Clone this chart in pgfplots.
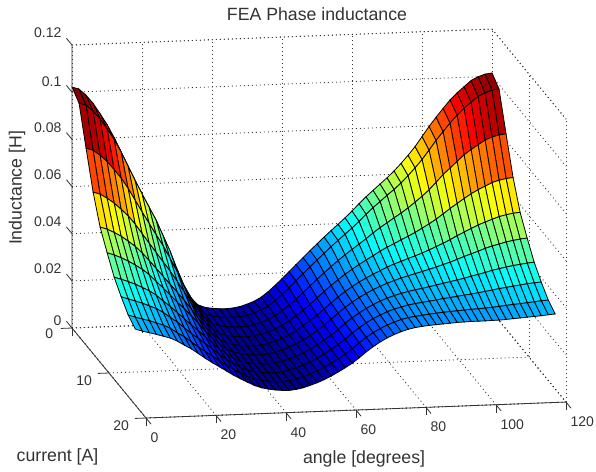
\documentclass[border=0pt]{standalone}
\usepackage{fontspec}
\setmainfont{Liberation Sans}
\usepackage{pgfplots}
\pgfplotsset{compat=1.18}
\begin{document}
\begin{tikzpicture}
\useasboundingbox (0,0) rectangle (596pt,-471pt);
\begin{axis}[
 at={(72pt,-328pt)}, anchor=origin,
 x={(3.5pt,0.133pt)}, y={(-3.7pt,4.5pt)}, z={(0pt,2358pt)}, y dir=reverse,
 xmin=0,xmax=120,ymin=0,ymax=20,zmin=0,zmax=0.12,
 clip=false,
 colormap={mjet}{rgb=(0,0,.5) rgb=(0,0,1) rgb=(0,.5,1) rgb=(0,1,1) rgb=(.5,1,.5) rgb=(1,1,0) rgb=(1,.5,0) rgb=(1,0,0) rgb=(.5,0,0)},
 point meta min=0.0035, point meta max=0.1025,
 xtick={0,20,40,60,80,100,120}, ytick={0,10,20}, ztick={0,0.02,0.04,0.06,0.08,0.1,0.12},
 xticklabels={0,20,40,60,80,100,120}, yticklabels={0,10,20}, zticklabels={0,0.02,0.04,0.06,0.08,0.1,0.12},
 grid=major,
 grid style={black!80,line width=0.8pt,dash pattern=on 1pt off 3pt},
 axis line style={black!80,line width=0.8pt,dash pattern=on 1pt off 3pt},
 tick style={black!80,line width=0.8pt,solid},
 y tick style={draw=none},
 z tick style={draw=none},
 tick align=outside,
 xtick pos=left, ytick pos=left, ztick pos=right,
 xticklabel pos=left, yticklabel pos=left, zticklabel pos=left,
 major tick length=8pt,
 tick label style={font=\fontsize{14}{16}\selectfont,text=black!80},
 x tick label style={anchor=north west,xshift=-4pt,yshift=-5pt},
 y tick label style={xshift=-7pt,yshift=2.5pt},
 z tick label style={xshift=-2pt,yshift=-2pt},
 title={FEA Phase inductance}, xlabel={angle [degrees]}, ylabel={current [A]}, zlabel={Inductance [H]},
 every axis title/.style={at={(axis cs:70,0,0.129)},anchor=center,font=\fontsize{17.7}{20}\selectfont,text=black!80},
 every axis x label/.style={at={(axis cs:51.1,30.6,0)},anchor=center,font=\fontsize{17.7}{20}\selectfont,text=black!80},
 every axis y label/.style={at={(axis cs:-33.3,27.6,0)},anchor=center,font=\fontsize{17.7}{20}\selectfont,text=black!80},
 every axis z label/.style={at={(axis cs:-15.7,0,0.0603)},rotate=90,anchor=center,font=\fontsize{17.7}{20}\selectfont,text=black!80},
]
\addplot3[surf,shader=flat corner,draw=black,line width=0.8pt,mesh/ordering=y varies] table[x=x,y=y,z=z] {
x y z
0 0 0.1022
0 1.9 0.0990
0 3.8 0.0835
0 5.7 0.0685
0 7.6 0.0573
0 9.5 0.0500
0 11.4 0.0433
0 13.3 0.0386
0 15.2 0.0345
0 17.1 0.0322

2 0 0.1012
2 1.9 0.0980
2 3.8 0.0825
2 5.7 0.0675
2 7.6 0.0563
2 9.5 0.0490
2 11.4 0.0423
2 13.3 0.0376
2 15.2 0.0335
2 17.1 0.0312

4 0 0.0985
4 1.9 0.0954
4 3.8 0.0803
4 5.7 0.0657
4 7.6 0.0548
4 9.5 0.0477
4 11.4 0.0412
4 13.3 0.0366
4 15.2 0.0326
4 17.1 0.0304

6 0 0.0950
6 1.9 0.0920
6 3.8 0.0775
6 5.7 0.0635
6 7.6 0.0531
6 9.5 0.0462
6 11.4 0.0400
6 13.3 0.0356
6 15.2 0.0318
6 17.1 0.0296

8 0 0.0905
8 1.9 0.0877
8 3.8 0.0740
8 5.7 0.0608
8 7.6 0.0509
8 9.5 0.0444
8 11.4 0.0385
8 13.3 0.0343
8 15.2 0.0307
8 17.1 0.0287

10 0 0.0858
10 1.9 0.0831
10 3.8 0.0703
10 5.7 0.0579
10 7.6 0.0486
10 9.5 0.0425
10 11.4 0.0370
10 13.3 0.0331
10 15.2 0.0297
10 17.1 0.0278

12 0 0.0802
12 1.9 0.0777
12 3.8 0.0658
12 5.7 0.0543
12 7.6 0.0457
12 9.5 0.0401
12 11.4 0.0350
12 13.3 0.0313
12 15.2 0.0282
12 17.1 0.0264

14 0 0.0738
14 1.9 0.0715
14 3.8 0.0607
14 5.7 0.0501
14 7.6 0.0423
14 9.5 0.0371
14 11.4 0.0324
14 13.3 0.0291
14 15.2 0.0262
14 17.1 0.0246

16 0 0.0675
16 1.9 0.0654
16 3.8 0.0556
16 5.7 0.0460
16 7.6 0.0389
16 9.5 0.0342
16 11.4 0.0300
16 13.3 0.0270
16 15.2 0.0244
16 17.1 0.0229

18 0 0.0614
18 1.9 0.0595
18 3.8 0.0506
18 5.7 0.0419
18 7.6 0.0354
18 9.5 0.0311
18 11.4 0.0273
18 13.3 0.0245
18 15.2 0.0221
18 17.1 0.0208

20 0 0.0555
20 1.9 0.0538
20 3.8 0.0457
20 5.7 0.0378
20 7.6 0.0319
20 9.5 0.0280
20 11.4 0.0246
20 13.3 0.0220
20 15.2 0.0199
20 17.1 0.0187

22 0 0.0497
22 1.9 0.0482
22 3.8 0.0409
22 5.7 0.0338
22 7.6 0.0285
22 9.5 0.0251
22 11.4 0.0219
22 13.3 0.0197
22 15.2 0.0178
22 17.1 0.0167

24 0 0.0428
24 1.9 0.0415
24 3.8 0.0354
24 5.7 0.0294
24 7.6 0.0249
24 9.5 0.0220
24 11.4 0.0193
24 13.3 0.0174
24 15.2 0.0158
24 17.1 0.0149

26 0 0.0358
26 1.9 0.0348
26 3.8 0.0297
26 5.7 0.0248
26 7.6 0.0212
26 9.5 0.0188
26 11.4 0.0166
26 13.3 0.0151
26 15.2 0.0138
26 17.1 0.0130

28 0 0.0278
28 1.9 0.0270
28 3.8 0.0233
28 5.7 0.0198
28 7.6 0.0171
28 9.5 0.0153
28 11.4 0.0138
28 13.3 0.0126
28 15.2 0.0117
28 17.1 0.0111

30 0 0.0205
30 1.9 0.0200
30 3.8 0.0176
30 5.7 0.0152
30 7.6 0.0134
30 9.5 0.0123
30 11.4 0.0112
30 13.3 0.0105
30 15.2 0.0099
30 17.1 0.0095

32 0 0.0150
32 1.9 0.0147
32 3.8 0.0131
32 5.7 0.0116
32 7.6 0.0104
32 9.5 0.0097
32 11.4 0.0090
32 13.3 0.0085
32 15.2 0.0081
32 17.1 0.0079

34 0 0.0108
34 1.9 0.0106
34 3.8 0.0096
34 5.7 0.0087
34 7.6 0.0080
34 9.5 0.0075
34 11.4 0.0071
34 13.3 0.0068
34 15.2 0.0065
34 17.1 0.0064

36 0 0.0078
36 1.9 0.0077
36 3.8 0.0071
36 5.7 0.0066
36 7.6 0.0062
36 9.5 0.0059
36 11.4 0.0057
36 13.3 0.0055
36 15.2 0.0054
36 17.1 0.0053

38 0 0.0066
38 1.9 0.0065
38 3.8 0.0061
38 5.7 0.0056
38 7.6 0.0053
38 9.5 0.0051
38 11.4 0.0049
38 13.3 0.0048
38 15.2 0.0047
38 17.1 0.0046

40 0 0.0061
40 1.9 0.0060
40 3.8 0.0056
40 5.7 0.0051
40 7.6 0.0048
40 9.5 0.0046
40 11.4 0.0044
40 13.3 0.0043
40 15.2 0.0042
40 17.1 0.0041

42 0 0.0058
42 1.9 0.0057
42 3.8 0.0053
42 5.7 0.0048
42 7.6 0.0045
42 9.5 0.0043
42 11.4 0.0041
42 13.3 0.0040
42 15.2 0.0039
42 17.1 0.0038

44 0 0.0057
44 1.9 0.0056
44 3.8 0.0052
44 5.7 0.0047
44 7.6 0.0044
44 9.5 0.0042
44 11.4 0.0040
44 13.3 0.0039
44 15.2 0.0038
44 17.1 0.0037

46 0 0.0059
46 1.9 0.0058
46 3.8 0.0054
46 5.7 0.0050
46 7.6 0.0047
46 9.5 0.0045
46 11.4 0.0043
46 13.3 0.0042
46 15.2 0.0041
46 17.1 0.0040

48 0 0.0064
48 1.9 0.0063
48 3.8 0.0059
48 5.7 0.0055
48 7.6 0.0052
48 9.5 0.0051
48 11.4 0.0049
48 13.3 0.0048
48 15.2 0.0047
48 17.1 0.0046

50 0 0.0073
50 1.9 0.0072
50 3.8 0.0068
50 5.7 0.0064
50 7.6 0.0061
50 9.5 0.0060
50 11.4 0.0058
50 13.3 0.0057
50 15.2 0.0056
50 17.1 0.0055

52 0 0.0084
52 1.9 0.0083
52 3.8 0.0079
52 5.7 0.0075
52 7.6 0.0072
52 9.5 0.0070
52 11.4 0.0068
52 13.3 0.0067
52 15.2 0.0066
52 17.1 0.0065

54 0 0.0100
54 1.9 0.0099
54 3.8 0.0094
54 5.7 0.0089
54 7.6 0.0085
54 9.5 0.0083
54 11.4 0.0081
54 13.3 0.0079
54 15.2 0.0078
54 17.1 0.0077

56 0 0.0122
56 1.9 0.0121
56 3.8 0.0114
56 5.7 0.0107
56 7.6 0.0102
56 9.5 0.0099
56 11.4 0.0096
56 13.3 0.0094
56 15.2 0.0092
56 17.1 0.0091

58 0 0.0148
58 1.9 0.0146
58 3.8 0.0137
58 5.7 0.0128
58 7.6 0.0122
58 9.5 0.0117
58 11.4 0.0114
58 13.3 0.0111
58 15.2 0.0108
58 17.1 0.0107

60 0 0.0175
60 1.9 0.0173
60 3.8 0.0161
60 5.7 0.0150
60 7.6 0.0142
60 9.5 0.0137
60 11.4 0.0132
60 13.3 0.0129
60 15.2 0.0126
60 17.1 0.0124

62 0 0.0204
62 1.9 0.0201
62 3.8 0.0187
62 5.7 0.0174
62 7.6 0.0164
62 9.5 0.0158
62 11.4 0.0152
62 13.3 0.0148
62 15.2 0.0144
62 17.1 0.0142

64 0 0.0233
64 1.9 0.0230
64 3.8 0.0215
64 5.7 0.0200
64 7.6 0.0189
64 9.5 0.0182
64 11.4 0.0175
64 13.3 0.0170
64 15.2 0.0166
64 17.1 0.0164

66 0 0.0261
66 1.9 0.0258
66 3.8 0.0242
66 5.7 0.0226
66 7.6 0.0214
66 9.5 0.0207
66 11.4 0.0200
66 13.3 0.0195
66 15.2 0.0190
66 17.1 0.0188

68 0 0.0290
68 1.9 0.0286
68 3.8 0.0268
68 5.7 0.0251
68 7.6 0.0238
68 9.5 0.0230
68 11.4 0.0222
68 13.3 0.0216
68 15.2 0.0212
68 17.1 0.0209

70 0 0.0317
70 1.9 0.0313
70 3.8 0.0293
70 5.7 0.0274
70 7.6 0.0260
70 9.5 0.0251
70 11.4 0.0242
70 13.3 0.0236
70 15.2 0.0231
70 17.1 0.0228

72 0 0.0345
72 1.9 0.0340
72 3.8 0.0318
72 5.7 0.0296
72 7.6 0.0280
72 9.5 0.0270
72 11.4 0.0260
72 13.3 0.0253
72 15.2 0.0247
72 17.1 0.0244

74 0 0.0371
74 1.9 0.0366
74 3.8 0.0341
74 5.7 0.0316
74 7.6 0.0298
74 9.5 0.0286
74 11.4 0.0275
74 13.3 0.0267
74 15.2 0.0261
74 17.1 0.0257

76 0 0.0397
76 1.9 0.0391
76 3.8 0.0363
76 5.7 0.0335
76 7.6 0.0314
76 9.5 0.0301
76 11.4 0.0289
76 13.3 0.0280
76 15.2 0.0272
76 17.1 0.0268

78 0 0.0423
78 1.9 0.0416
78 3.8 0.0384
78 5.7 0.0353
78 7.6 0.0329
78 9.5 0.0314
78 11.4 0.0300
78 13.3 0.0290
78 15.2 0.0282
78 17.1 0.0277

80 0 0.0451
80 1.9 0.0443
80 3.8 0.0406
80 5.7 0.0370
80 7.6 0.0343
80 9.5 0.0326
80 11.4 0.0310
80 13.3 0.0298
80 15.2 0.0289
80 17.1 0.0283

82 0 0.0481
82 1.9 0.0472
82 3.8 0.0429
82 5.7 0.0388
82 7.6 0.0357
82 9.5 0.0336
82 11.4 0.0318
82 13.3 0.0305
82 15.2 0.0293
82 17.1 0.0287

84 0 0.0509
84 1.9 0.0499
84 3.8 0.0451
84 5.7 0.0404
84 7.6 0.0369
84 9.5 0.0346
84 11.4 0.0325
84 13.3 0.0310
84 15.2 0.0297
84 17.1 0.0290

86 0 0.0535
86 1.9 0.0524
86 3.8 0.0470
86 5.7 0.0418
86 7.6 0.0379
86 9.5 0.0354
86 11.4 0.0331
86 13.3 0.0314
86 15.2 0.0300
86 17.1 0.0292

88 0 0.0561
88 1.9 0.0549
88 3.8 0.0490
88 5.7 0.0433
88 7.6 0.0390
88 9.5 0.0362
88 11.4 0.0336
88 13.3 0.0318
88 15.2 0.0303
88 17.1 0.0294

90 0 0.0586
90 1.9 0.0573
90 3.8 0.0509
90 5.7 0.0447
90 7.6 0.0400
90 9.5 0.0370
90 11.4 0.0342
90 13.3 0.0322
90 15.2 0.0306
90 17.1 0.0296

92 0 0.0614
92 1.9 0.0599
92 3.8 0.0530
92 5.7 0.0462
92 7.6 0.0411
92 9.5 0.0378
92 11.4 0.0348
92 13.3 0.0327
92 15.2 0.0308
92 17.1 0.0298

94 0 0.0645
94 1.9 0.0629
94 3.8 0.0553
94 5.7 0.0479
94 7.6 0.0423
94 9.5 0.0387
94 11.4 0.0354
94 13.3 0.0330
94 15.2 0.0310
94 17.1 0.0299

96 0 0.0678
96 1.9 0.0661
96 3.8 0.0577
96 5.7 0.0496
96 7.6 0.0436
96 9.5 0.0396
96 11.4 0.0360
96 13.3 0.0334
96 15.2 0.0312
96 17.1 0.0300

98 0 0.0714
98 1.9 0.0695
98 3.8 0.0603
98 5.7 0.0515
98 7.6 0.0449
98 9.5 0.0405
98 11.4 0.0366
98 13.3 0.0338
98 15.2 0.0314
98 17.1 0.0300

100 0 0.0755
100 1.9 0.0734
100 3.8 0.0634
100 5.7 0.0536
100 7.6 0.0463
100 9.5 0.0416
100 11.4 0.0372
100 13.3 0.0341
100 15.2 0.0315
100 17.1 0.0300

102 0 0.0797
102 1.9 0.0774
102 3.8 0.0665
102 5.7 0.0558
102 7.6 0.0479
102 9.5 0.0427
102 11.4 0.0380
102 13.3 0.0346
102 15.2 0.0317
102 17.1 0.0301

104 0 0.0835
104 1.9 0.0810
104 3.8 0.0692
104 5.7 0.0578
104 7.6 0.0493
104 9.5 0.0437
104 11.4 0.0386
104 13.3 0.0350
104 15.2 0.0319
104 17.1 0.0301

106 0 0.0871
106 1.9 0.0845
106 3.8 0.0719
106 5.7 0.0598
106 7.6 0.0507
106 9.5 0.0447
106 11.4 0.0393
106 13.3 0.0355
106 15.2 0.0322
106 17.1 0.0303

108 0 0.0906
108 1.9 0.0878
108 3.8 0.0746
108 5.7 0.0617
108 7.6 0.0521
108 9.5 0.0458
108 11.4 0.0401
108 13.3 0.0360
108 15.2 0.0325
108 17.1 0.0305

110 0 0.0935
110 1.9 0.0906
110 3.8 0.0767
110 5.7 0.0633
110 7.6 0.0532
110 9.5 0.0467
110 11.4 0.0407
110 13.3 0.0364
110 15.2 0.0328
110 17.1 0.0307

112 0 0.0960
112 1.9 0.0930
112 3.8 0.0786
112 5.7 0.0647
112 7.6 0.0543
112 9.5 0.0474
112 11.4 0.0413
112 13.3 0.0368
112 15.2 0.0330
112 17.1 0.0309

114 0 0.0985
114 1.9 0.0954
114 3.8 0.0805
114 5.7 0.0661
114 7.6 0.0553
114 9.5 0.0482
114 11.4 0.0418
114 13.3 0.0372
114 15.2 0.0333
114 17.1 0.0311

116 0 0.1000
116 1.9 0.0968
116 3.8 0.0817
116 5.7 0.0670
116 7.6 0.0560
116 9.5 0.0487
116 11.4 0.0422
116 13.3 0.0376
116 15.2 0.0336
116 17.1 0.0313

118 0 0.1010
118 1.9 0.0978
118 3.8 0.0825
118 5.7 0.0676
118 7.6 0.0565
118 9.5 0.0492
118 11.4 0.0426
118 13.3 0.0379
118 15.2 0.0339
118 17.1 0.0316

120 0 0.1014
120 1.9 0.0982
120 3.8 0.0828
120 5.7 0.0679
120 7.6 0.0568
120 9.5 0.0495
120 11.4 0.0429
120 13.3 0.0381
120 15.2 0.0341
120 17.1 0.0318
};
\draw[black!80,line width=0.8pt] (axis cs:0,0,0.12)--(axis cs:0,0,0)--(axis cs:0,20,0)--(axis cs:120,20,0);
\draw[black!80,line width=0.8pt] (axis cs:0,0,0)--(axis cs:-3.2,0,0) (axis cs:0,10,0)--(axis cs:-3.2,10,0) (axis cs:0,20,0)--(axis cs:-3.2,20,0);
\draw[black!80,line width=0.8pt] (axis cs:0,0,0)--(axis cs:0,-1.5,0) (axis cs:0,0,0.02)--(axis cs:0,-1.5,0.02) (axis cs:0,0,0.04)--(axis cs:0,-1.5,0.04) (axis cs:0,0,0.06)--(axis cs:0,-1.5,0.06) (axis cs:0,0,0.08)--(axis cs:0,-1.5,0.08) (axis cs:0,0,0.1)--(axis cs:0,-1.5,0.1) (axis cs:0,0,0.12)--(axis cs:0,-1.5,0.12);
\end{axis}
\end{tikzpicture}
\end{document}
